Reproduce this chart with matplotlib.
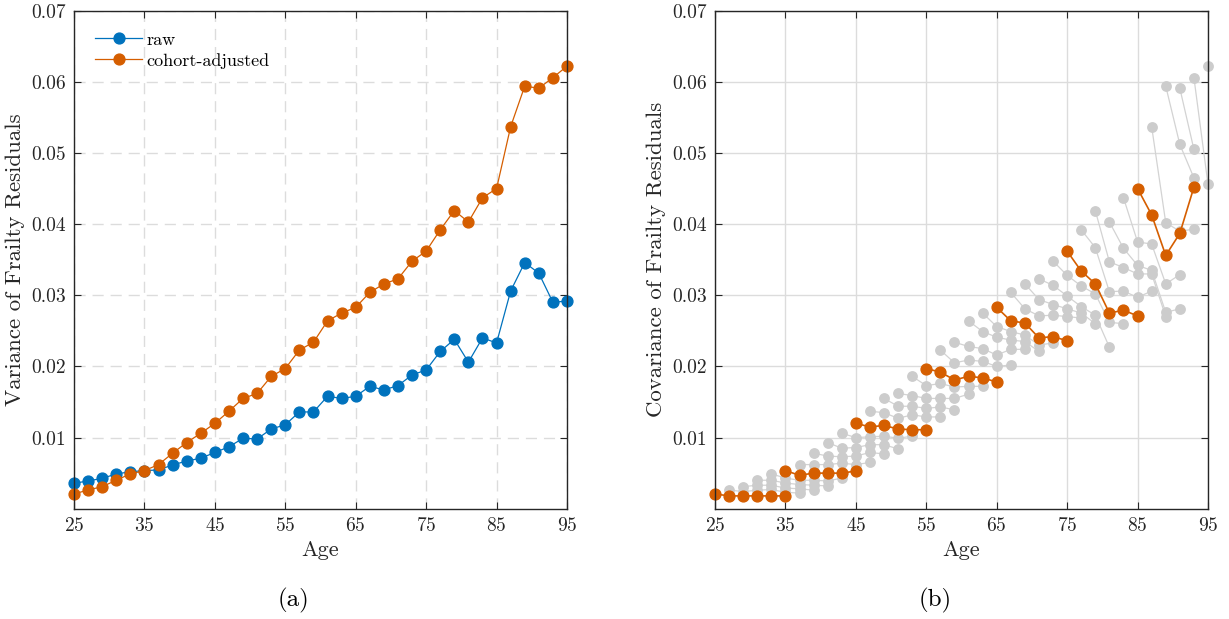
import numpy as np
import matplotlib
matplotlib.use("Agg")
import matplotlib.pyplot as plt

plt.rcParams['font.family'] = 'serif'
plt.rcParams['font.serif'] = ['cmr10', 'DejaVu Serif']
plt.rcParams['mathtext.fontset'] = 'cm'
plt.rcParams['axes.unicode_minus'] = False
plt.rcParams['axes.formatter.use_mathtext'] = True

ages = np.arange(25, 96, 2)

# panel (a): variance by age
var_raw = [0.00357, 0.0039, 0.00427, 0.00488, 0.0052, 0.00535, 0.00545, 0.00615, 0.0067,
           0.0071, 0.0079, 0.0087, 0.0099, 0.0098, 0.0112, 0.0118, 0.0136, 0.0136,
           0.0158, 0.0155, 0.0158, 0.0172, 0.0167, 0.0173, 0.0188, 0.0195, 0.0221,
           0.0238, 0.0206, 0.0240, 0.0233, 0.0306, 0.0346, 0.0331, 0.0290, 0.0292]
var_adj = [0.00207, 0.00263, 0.0031, 0.0040, 0.0049, 0.00535, 0.0062, 0.0078, 0.0093,
           0.0106, 0.0120, 0.0137, 0.0155, 0.0162, 0.0186, 0.0197, 0.0223, 0.0234,
           0.0264, 0.0275, 0.0283, 0.0304, 0.0316, 0.0323, 0.0348, 0.0362, 0.0392,
           0.0419, 0.0403, 0.0437, 0.0450, 0.0537, 0.0594, 0.0591, 0.0606, 0.0622]

# panel (b): covariance of age a with age a+2k, indexed by starting age a (25..95)
nan = np.nan
cov_lag1 = [0.0018, 0.0024, 0.0033, 0.0040, 0.0043, 0.0047, 0.0062, 0.0074, 0.0085, 0.0100,
            0.0115, 0.0135, 0.0144, 0.0159, 0.0173, 0.0192, 0.0205, 0.0228, 0.0249, 0.0256,
            0.0264, 0.0281, 0.0294, 0.0314, 0.0328, 0.0334, 0.0367, 0.0347, 0.0366, 0.0375,
            0.0413, 0.0402, 0.0512, 0.0505, 0.0456, nan]
cov_lag2 = [0.0018, 0.0026, 0.0033, 0.0036, 0.0040, 0.0050, 0.0062, 0.0073, 0.0086, 0.0101,
            0.0117, 0.0127, 0.0144, 0.0155, 0.0176, 0.0181, 0.0209, 0.0225, 0.0241, 0.0249,
            0.0261, 0.0271, 0.0287, 0.0299, 0.0313, 0.0316, 0.0305, 0.0339, 0.0342, 0.0372,
            0.0356, 0.0390, 0.0465, nan, nan, nan]
cov_lag3 = [0.0018, 0.0027, 0.0029, 0.0034, 0.0040, 0.0050, 0.0064, 0.0074, 0.0090, 0.0102,
            0.0112, 0.0132, 0.0141, 0.0155, 0.0171, 0.0186, 0.0207, 0.0216, 0.0237, 0.0244,
            0.0240, 0.0272, 0.0281, 0.0284, 0.0302, 0.0275, 0.0306, 0.0330, 0.0335, 0.0316,
            0.0387, 0.0393, nan, nan, nan, nan]
cov_lag4 = [0.0018, 0.0023, 0.0028, 0.0033, 0.0039, 0.0050, 0.0062, 0.0079, 0.0090, 0.0099,
            0.0111, 0.0129, 0.0143, 0.0155, 0.0172, 0.0184, 0.0200, 0.0224, 0.0235, 0.0230,
            0.0242, 0.0270, 0.0275, 0.0272, 0.0262, 0.0279, 0.0297, 0.0330, 0.0276, 0.0329,
            0.0452, nan, nan, nan, nan, nan]
cov_lag5 = [0.0018, 0.0022, 0.0026, 0.0032, 0.0043, 0.0053, 0.0065, 0.0077, 0.0084, 0.0102,
            0.0111, 0.0129, 0.0139, 0.0161, 0.0172, 0.0178, 0.0202, 0.0224, 0.0221, 0.0233,
            0.0236, 0.0268, 0.0260, 0.0227, 0.0260, 0.0271, 0.0306, 0.0270, 0.0281, nan,
            nan, nan, nan, nan, nan, nan]
highlight_starts = [25, 35, 45, 55, 65, 75, 85]

blue = '#0072BD'
orange = '#D55E00'
gray = '#cccccc'
dark = '#262626'

W, H = 1229, 619
fig = plt.figure(figsize=(W / 100, H / 100), dpi=100)
ax1 = fig.add_axes([74 / W, (H - 508.7) / H, 493 / W, 498 / H])
ax2 = fig.add_axes([715 / W, (H - 508.7) / H, 493 / W, 498 / H])

ax1.plot(ages, var_raw, '-o', color=blue, lw=0.9, ms=7.8, label='raw', zorder=3, clip_on=False)
ax1.plot(ages, var_adj, '-o', color=orange, lw=0.9, ms=7.8, label='cohort-adjusted', zorder=3,
         clip_on=False)
ax1.legend(loc='upper left', frameon=False, fontsize=13, handlelength=2.6,
           handletextpad=0.25, labelspacing=0.3, borderaxespad=0.5,
           bbox_to_anchor=(0.01, 0.99))

lags = np.array([var_adj, cov_lag1, cov_lag2, cov_lag3, cov_lag4, cov_lag5])
for i, a in enumerate(ages):
    if a in highlight_starts:
        continue
    xs = a + 2 * np.arange(6)
    ys = lags[:, i]
    ok = (xs <= 95) & ~np.isnan(ys)
    ax2.plot(xs[ok], ys[ok], '-', color='#d3d3d3', lw=0.9, zorder=2)
    ax2.plot(xs[ok], ys[ok], 'o', color=gray, ms=7.8, mec='none', zorder=2.5, clip_on=False)
for i, a in enumerate(ages):
    if a not in highlight_starts:
        continue
    xs = a + 2 * np.arange(6)
    ys = lags[:, i]
    ok = (xs <= 95) & ~np.isnan(ys)
    ax2.plot(xs[ok], ys[ok], '-o', color=orange, lw=1.2, ms=7.8, zorder=3, clip_on=False)

for ax, ylab, ls in [(ax1, 'Variance of Frailty Residuals', (0, (8, 5))),
                     (ax2, 'Covariance of Frailty Residuals', '-')]:
    ax.set_xlim(25, 95)
    ax.set_ylim(0, 0.07)
    ax.set_xticks(np.arange(25, 96, 10))
    ax.set_yticks(np.arange(0.01, 0.071, 0.01))
    ax.set_yticklabels(['0.01', '0.02', '0.03', '0.04', '0.05', '0.06', '0.07'])
    ax.grid(True, color='#dcdcdc', lw=1.0, linestyle=ls, zorder=0)
    ax.set_axisbelow(True)
    ax.tick_params(direction='in', top=True, right=True, length=5, width=0.8,
                   colors=dark, labelsize=14, pad=6)
    for s in ax.spines.values():
        s.set_color(dark)
        s.set_linewidth(1.0)
        s.set_zorder(4)
    ax.set_xlabel('Age', fontsize=16, color=dark, labelpad=4)
    ax.set_ylabel(ylab, fontsize=16.5, color=dark, labelpad=4)

fig.text(293 / W, 1 - 600 / H, '(a)', fontsize=18, ha='center', va='center')
fig.text(935 / W, 1 - 600 / H, '(b)', fontsize=18, ha='center', va='center')

fig.savefig('out.png', dpi=100)
